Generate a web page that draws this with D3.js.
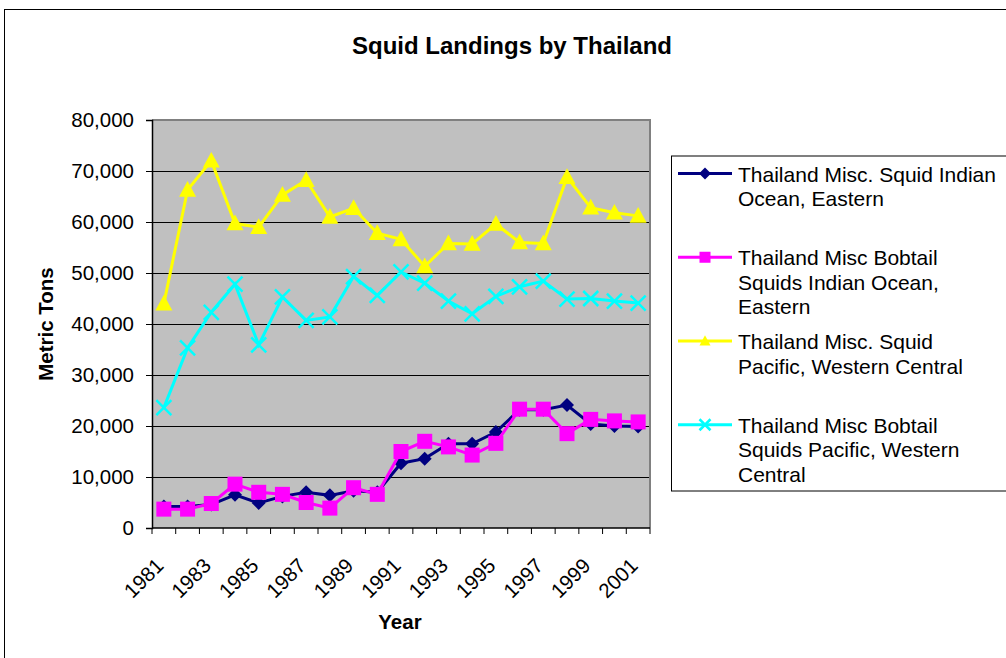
<!DOCTYPE html>
<html><head><meta charset="utf-8">
<script src="https://cdn.jsdelivr.net/npm/d3@7"></script>
<style>
html,body{margin:0;padding:0;background:#fff;}
text{font-family:"Liberation Sans",Arial,sans-serif;}
</style></head>
<body>
<svg id="c" width="1006" height="658"></svg>
<script>
const years = ["1981","1982","1983","1984","1985","1986","1987","1988","1989","1990","1991","1992","1993","1994","1995","1996","1997","1998","1999","2000","2001"];
const yearLabels = ["1981","1983","1985","1987","1989","1991","1993","1995","1997","1999","2001"];
const yTicks = [0,10000,20000,30000,40000,50000,60000,70000,80000];
const seriesNames = [
  ["Thailand Misc. Squid Indian","Ocean, Eastern"],
  ["Thailand Misc Bobtail","Squids Indian Ocean,","Eastern"],
  ["Thailand Misc. Squid","Pacific, Western Central"],
  ["Thailand Misc Bobtail","Squids Pacific, Western","Central"]
];
const indianSquid = [4200,4200,4600,6500,4900,6200,7000,6400,7300,7000,12700,13600,16500,16500,18800,23200,23200,24100,20400,20000,19900];
const indianBobtail = [3700,3700,4800,8600,7000,6600,5000,3900,7900,6600,15000,17000,15900,14300,16600,23300,23300,18500,21300,21000,20800];
const pacificSquid = [44000,66300,72000,59700,59000,65300,68200,61000,62700,57800,56600,51300,55800,55700,59600,56000,55800,68800,62800,61800,61200];
const pacificBobtail = [23600,35300,42300,47800,35900,45300,40700,41400,49300,45600,50200,48000,44500,42000,45400,47300,48400,44900,45000,44500,44100];
const seriesValues = [indianSquid, indianBobtail, pacificSquid, pacificBobtail];
const seriesColors = ["#000080","#ff00ff","#ffff00","#00ffff"];
const seriesMarkers = ["diamond","square","triangle","x"];

const svg = d3.select("#c");
svg.append("rect").attr("x",4.5).attr("y",9.5).attr("width",1010).attr("height",660)
  .attr("fill","#fff").attr("stroke","#000").attr("stroke-width",1);

const L=152, R=650, T=120, B=528;
const x = d3.scaleBand().domain(years).range([L,R]);
const y = d3.scaleLinear().domain([0,80000]).range([B,T]);

svg.append("text").attr("x",512).attr("y",54).attr("text-anchor","middle")
  .attr("font-size",24).attr("font-weight","bold").text("Squid Landings by Thailand");

svg.append("rect").attr("x",L).attr("y",T).attr("width",R-L).attr("height",B-T).attr("fill","#c0c0c0");
svg.append("g").selectAll("line").data(yTicks.filter(v=>v>0 && v<80000)).join("line")
  .attr("x1",L).attr("x2",R).attr("y1",d=>y(d)).attr("y2",d=>y(d))
  .attr("stroke","#000").attr("stroke-width",1).attr("shape-rendering","crispEdges");
svg.append("path").attr("d",`M${L},${T}H${R}V${B}`).attr("fill","none").attr("stroke","#808080").attr("stroke-width",2);

const yAxis = d3.axisLeft(y).tickValues(yTicks).tickSize(6).tickPadding(12).tickFormat(d3.format(","));
const gy = svg.append("g").attr("transform",`translate(${L},0)`).call(yAxis);
gy.select(".domain").attr("stroke","#000").attr("stroke-width",1.5);
gy.selectAll(".tick line").attr("stroke","#000");
gy.selectAll("text").attr("font-size",20.5).attr("fill","#000").attr("font-family","Liberation Sans, Arial, sans-serif");

const boundaries = years.map(d=>x(d)).concat([R]);
const gx = svg.append("g");
gx.append("line").attr("x1",L).attr("x2",R).attr("y1",B).attr("y2",B).attr("stroke","#000").attr("stroke-width",1.5);
gx.selectAll("line.t").data(boundaries).join("line").attr("class","t")
  .attr("x1",d=>d).attr("x2",d=>d).attr("y1",B).attr("y2",B+6).attr("stroke","#000");
gx.selectAll("text").data(yearLabels).join("text")
  .attr("transform",d=>`translate(${x(d)+x.bandwidth()/2+1},${B+39}) rotate(-45)`)
  .attr("text-anchor","end").attr("font-size",20.5).text(d=>d);

svg.append("text").attr("x",400).attr("y",629).attr("text-anchor","middle")
  .attr("font-size",20.5).attr("font-weight","bold").text("Year");
svg.append("text").attr("transform",`translate(53,${(T+B)/2}) rotate(-90)`).attr("text-anchor","middle")
  .attr("font-size",20.5).attr("font-weight","bold").text("Metric Tons");

function drawMarker(g, type, color, cx, cy, s){
  if(type==="diamond"){
    g.append("path").attr("d",`M${cx},${cy-s}L${cx+s},${cy}L${cx},${cy+s}L${cx-s},${cy}Z`).attr("fill",color);
  } else if(type==="square"){
    g.append("rect").attr("x",cx-s).attr("y",cy-s).attr("width",2*s).attr("height",2*s).attr("fill",color);
  } else if(type==="triangle"){
    g.append("path").attr("d",`M${cx},${cy-s*1.05}L${cx+s},${cy+s*0.8}L${cx-s},${cy+s*0.8}Z`).attr("fill",color);
  } else {
    g.append("path").attr("d",`M${cx-s},${cy-s}L${cx+s},${cy+s}M${cx-s},${cy+s}L${cx+s},${cy-s}`)
      .attr("stroke",color).attr("stroke-width",2.5).attr("fill","none");
  }
}
const markerSize = {diamond:7, square:7.5, triangle:8.5, x:7.5};

const line = d3.line().x((d,i)=>x(years[i])+x.bandwidth()/2).y(d=>y(d));
seriesValues.forEach((vals,si)=>{
  const g = svg.append("g");
  g.append("path").attr("d",line(vals)).attr("fill","none").attr("stroke",seriesColors[si]).attr("stroke-width",3);
  vals.forEach((v,i)=>drawMarker(g, seriesMarkers[si], seriesColors[si], x(years[i])+x.bandwidth()/2, y(v), markerSize[seriesMarkers[si]]));
});

const LX=671.5, LT=156, LB=491;
svg.append("rect").attr("x",LX).attr("y",LT).attr("width",400).attr("height",LB-LT)
  .attr("fill","#fff").attr("stroke","#000").attr("stroke-width",1);
const slot = (LB-LT)/4;
seriesNames.forEach((lines,si)=>{
  const base = LT + 25.5 + si*slot;
  const g = svg.append("g");
  const my = base - 8;
  g.append("line").attr("x1",678).attr("x2",732).attr("y1",my).attr("y2",my).attr("stroke",seriesColors[si]).attr("stroke-width",3);
  drawMarker(g, seriesMarkers[si], seriesColors[si], 705, my, seriesMarkers[si]==="diamond"?6:5.5);
  lines.forEach((t,li)=>{
    g.append("text").attr("x",738).attr("y",base+li*24.5).attr("font-size",21).text(t);
  });
});
</script>
</body></html>
